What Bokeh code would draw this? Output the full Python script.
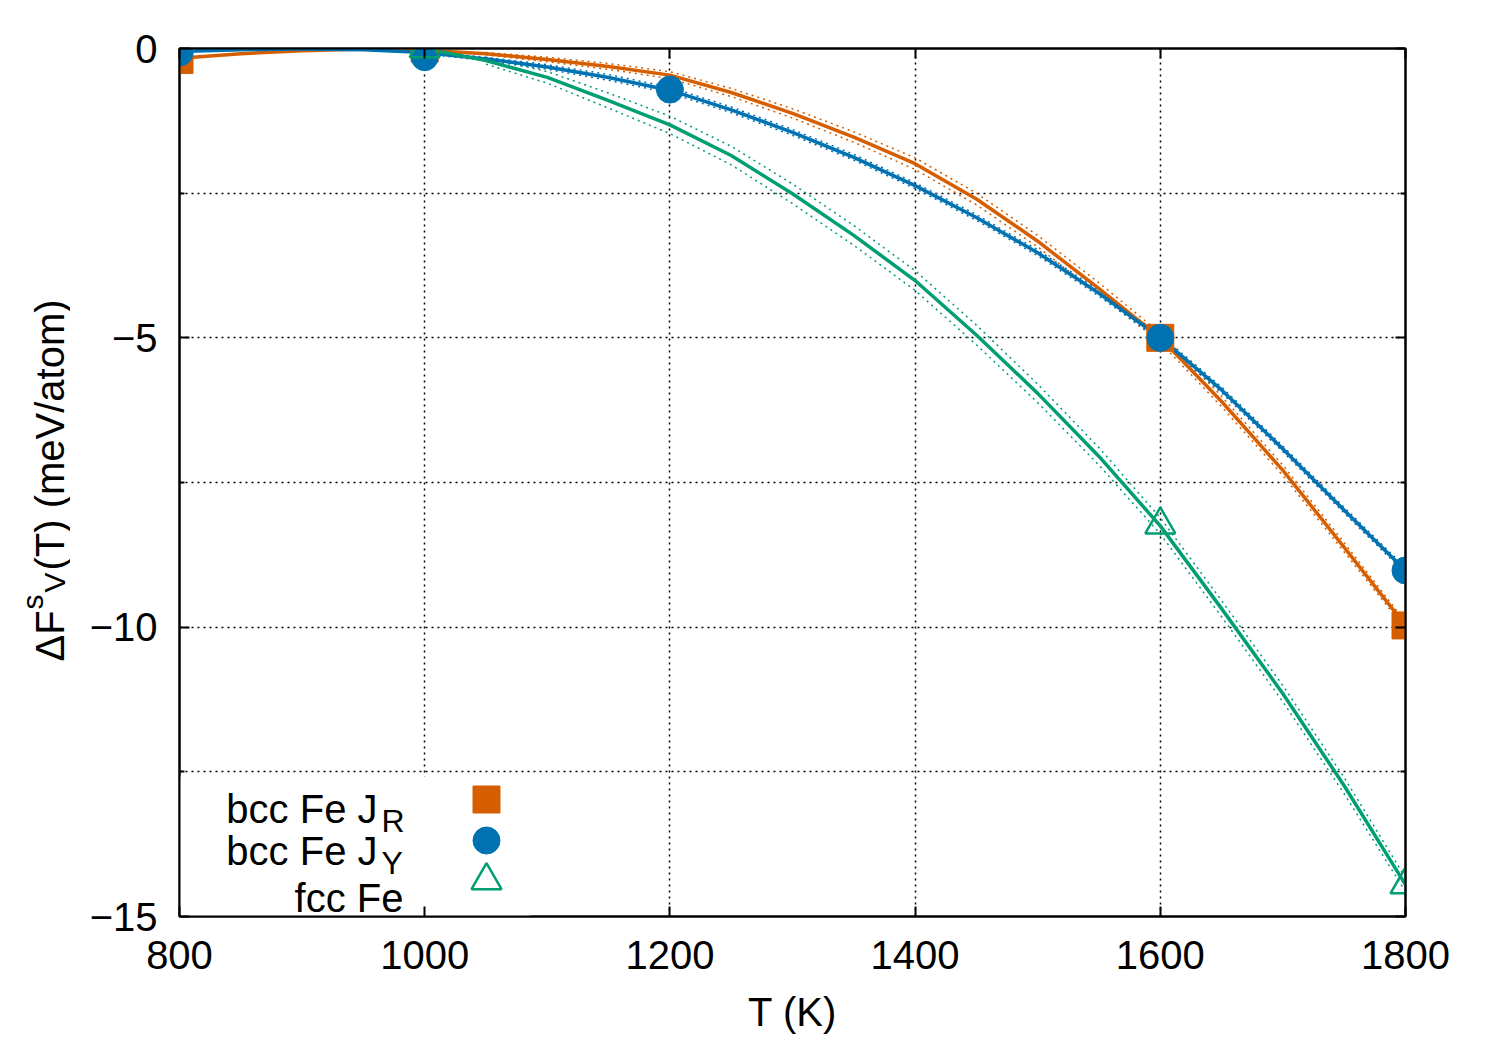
import numpy as np
from bokeh.plotting import figure
from bokeh.layouts import row
from bokeh.models import FixedTicker, LinearAxis, Label, BoxAnnotation, Range1d
from bokeh.embed import file_html
from bokeh.resources import INLINE

# ---------------- data ----------------
T_curve = [800, 850, 900, 950, 1000, 1050, 1100, 1150, 1200, 1250, 1300,
           1350, 1400, 1450, 1500, 1550, 1600, 1650, 1700, 1750, 1800]
bccR_curve = [-0.17, -0.09, -0.04, -0.01, -0.03, -0.09, -0.19, -0.31, -0.46, -0.76, -1.12,
              -1.53, -1.99, -2.60, -3.33, -4.15, -5.00, -6.10, -7.29, -8.62, -9.97]
bccR_err = [0.0, 0.0, 0.0, 0.0, 0.0, 0.02, 0.04, 0.05, 0.06, 0.07, 0.08,
            0.09, 0.10, 0.10, 0.10, 0.10, 0.08, 0.09, 0.09, 0.08, 0.06]
bccY_curve = [-0.05, -0.02, -0.01, -0.02, -0.07, -0.18, -0.32, -0.50, -0.72, -1.06, -1.45,
              -1.88, -2.37, -2.92, -3.53, -4.23, -5.00, -5.90, -6.92, -7.98, -9.02]
bccY_err = [0.0, 0.0, 0.0, 0.0, 0.02, 0.03, 0.04, 0.05, 0.05, 0.05, 0.05,
            0.05, 0.05, 0.05, 0.05, 0.05, 0.05, 0.05, 0.05, 0.05, 0.05]
T_fcc_curve = [1000, 1050, 1100, 1150, 1200, 1250, 1300, 1350, 1400, 1450, 1500,
               1550, 1600, 1650, 1700, 1750, 1800]
fcc_curve = [0.00, -0.21, -0.50, -0.90, -1.32, -1.85, -2.51, -3.23, -4.01, -4.95, -5.96,
             -7.05, -8.25, -9.68, -11.15, -12.74, -14.45]
fcc_err = [0.0, 0.06, 0.10, 0.13, 0.15, 0.16, 0.17, 0.17, 0.17, 0.17, 0.16,
           0.15, 0.14, 0.14, 0.14, 0.14, 0.12]

T_bccR_pts = [800, 1000, 1600, 1800]
bccR_pts = [-0.20, 0.00, -5.00, -9.97]
T_bccY_pts = [800, 1000, 1200, 1600, 1800]
bccY_pts = [-0.07, -0.15, -0.71, -5.00, -9.02]
T_fcc_pts = [1000, 1600, 1800]
fcc_pts = [0.00, -8.23, -14.45]

x_ticks = [800, 1000, 1200, 1400, 1600, 1800]
y_major = [0, -5, -10, -15]
y_minor = [-2.5, -7.5, -12.5]
y_labels = {0: "0", -5: "−5", -10: "−10", -15: "−15"}

legend_names = ["bcc Fe J", "bcc Fe J", "fcc Fe"]
legend_subs = ["R", "Y", ""]

ORANGE = "#d55e00"
BLUE = "#0072b2"
GREEN = "#009e73"
FONT = "Liberation Sans"

LAB_W = 70          # width of the strip holding the y-axis title
PAGE_H = 1048

# page-pixel -> data helpers (frame spans px 179..1405, py 48..916)
def T_at(px):
    return 800 + (px - 179) * 1000.0 / 1226.0

def v_at(py):
    return -(py - 48) * 15.0 / 868.0

p = figure(frame_width=1226, frame_height=868,
           x_range=Range1d(800, 1800), y_range=Range1d(-15, 0),
           output_backend="svg", toolbar_location=None,
           min_border_left=179 - LAB_W, min_border_top=48, min_border_right=80,
           min_border_bottom=PAGE_H - 48 - 868, background_fill_color="white")

p.outline_line_color = "black"
p.outline_line_width = 2

# axes
p.xaxis.ticker = FixedTicker(ticks=x_ticks)
p.yaxis.ticker = FixedTicker(ticks=y_major, minor_ticks=y_minor)
p.yaxis.major_label_overrides = y_labels
for ax in (p.xaxis[0], p.yaxis[0]):
    ax.axis_line_width = 2
    ax.major_tick_line_width = 2
    ax.minor_tick_line_width = 2
    ax.major_tick_in = 10
    ax.major_tick_out = 0
    ax.minor_tick_in = 5
    ax.minor_tick_out = 0
    ax.major_label_text_font = FONT
    ax.major_label_text_font_size = "40px"
    ax.major_label_text_color = "black"
p.xaxis.major_label_standoff = 24
p.yaxis.major_label_standoff = 22
p.xaxis.minor_tick_line_color = None
p.xaxis.axis_label = "T (K)"
p.xaxis.axis_label_text_font = FONT
p.xaxis.axis_label_text_font_size = "40px"
p.xaxis.axis_label_text_font_style = "normal"
p.xaxis.axis_label_text_color = "black"
p.xaxis.axis_label_standoff = 18

top = LinearAxis(ticker=FixedTicker(ticks=x_ticks),
                 major_label_overrides={t: "" for t in x_ticks})
right = LinearAxis(ticker=FixedTicker(ticks=y_major, minor_ticks=y_minor),
                   major_label_overrides={t: "" for t in y_major})
for ax in (top, right):
    ax.axis_line_width = 2
    ax.major_tick_line_width = 2
    ax.minor_tick_line_width = 2
    ax.major_tick_in = 10
    ax.major_tick_out = 0
    ax.minor_tick_in = 5
    ax.minor_tick_out = 0
    ax.major_label_text_font_size = "1px"
    ax.major_label_standoff = 0
top.minor_tick_line_color = None
p.add_layout(top, "above")
p.add_layout(right, "right")

# grid
for g in (p.xgrid[0], p.ygrid[0]):
    g.grid_line_color = "black"
    g.grid_line_dash = "2 4"
    g.grid_line_width = 1.5
    g.grid_line_alpha = 1.0
p.ygrid.minor_grid_line_color = "black"
p.ygrid.minor_grid_line_dash = "2 4"
p.ygrid.minor_grid_line_width = 1.5

# white key background
p.add_layout(BoxAnnotation(left=800, right=T_at(530), bottom=-15, top=v_at(776),
                           fill_color="white", fill_alpha=1.0, line_color=None,
                           level="underlay"))

# curves with dashed error bands
def band(T, y, e, color):
    T = np.array(T); y = np.array(y); e = np.array(e)
    m = e > 0
    p.line(T[m], (y + e)[m], line_color=color, line_width=1.5, line_dash="2 4")
    p.line(T[m], (y - e)[m], line_color=color, line_width=1.5, line_dash="2 4")

band(T_curve, bccR_curve, bccR_err, ORANGE)
band(T_curve, bccY_curve, bccY_err, BLUE)
band(T_fcc_curve, fcc_curve, fcc_err, GREEN)

p.line(T_curve, bccR_curve, line_color=ORANGE, line_width=3.5, line_join="round")
p.line(T_curve, bccY_curve, line_color=BLUE, line_width=3.5, line_join="round")
p.line(T_fcc_curve, fcc_curve, line_color=GREEN, line_width=3.5, line_join="round")

# points
p.scatter(T_bccR_pts, bccR_pts, marker="square", size=27, fill_color=ORANGE, line_color=ORANGE)
p.scatter(T_bccY_pts, bccY_pts, marker="circle", size=27, fill_color=BLUE, line_color=BLUE)
p.scatter(T_fcc_pts, fcc_pts, marker="triangle", size=30, fill_color=None,
          line_color=GREEN, line_width=2.5)

# key
key_marker_y = [799, 840, 880]
key_base_y = [808, 850, 897]
key_markers = ["square", "circle", "triangle"]
key_colors = [ORANGE, BLUE, GREEN]
for i in range(3):
    fill = key_colors[i] if key_markers[i] != "triangle" else None
    p.scatter([T_at(486)], [v_at(key_marker_y[i])], marker=key_markers[i],
              size=27 if i < 2 else 30, fill_color=fill, line_color=key_colors[i],
              line_width=2.5 if i == 2 else 1)
    if legend_subs[i]:
        p.add_layout(Label(x=T_at(377), y=v_at(key_base_y[i]), text=legend_names[i],
                           text_font=FONT, text_font_size="40px", text_align="right",
                           text_baseline="alphabetic", text_color="black"))
        p.add_layout(Label(x=T_at(381), y=v_at(key_base_y[i] + 12), text=legend_subs[i],
                           text_font=FONT, text_font_size="32px", text_align="left",
                           text_baseline="alphabetic", text_color="black"))
    else:
        p.add_layout(Label(x=T_at(403), y=v_at(key_base_y[i]), text=legend_names[i],
                           text_font=FONT, text_font_size="40px", text_align="right",
                           text_baseline="alphabetic", text_color="black"))

# y axis title strip: ΔF^s_V(T) (meV/atom).
# The row layout aligns this strip's frame with the main frame (py 48..916),
# so the same vertical mapping v_at() is used; x is in strip pixels.
lab = figure(width=LAB_W, height=PAGE_H, x_range=Range1d(0, LAB_W),
             y_range=Range1d(-15, 0), output_backend="svg", toolbar_location=None,
             min_border=0, x_axis_type=None, y_axis_type=None, title=None,
             outline_line_color=None, background_fill_color="white")
lab.grid.visible = False
ang = np.pi / 2
title_parts = [("ΔF", 49, 661, "40px"), ("s", 32, 609, "30px"),
               ("V", 54, 592, "30px"), ("(T) (meV/atom)", 49, 570, "40px")]
for txt, bx, sy, fs in title_parts:
    lab.add_layout(Label(x=bx, y=v_at(sy), text=txt, angle=ang, text_font=FONT,
                         text_font_size=fs, text_align="left", text_baseline="alphabetic",
                         text_color="black"))

layout = row(lab, p)
open("out.html", "w").write(file_html(layout, INLINE))
